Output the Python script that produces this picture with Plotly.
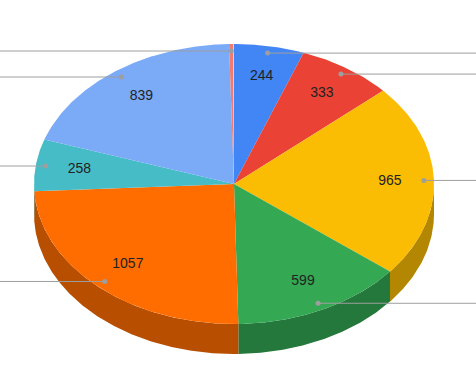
import numpy as np
import plotly.graph_objects as go

# ---- data ----
categories = ["S1", "S2", "S3", "S4", "S5", "S6", "S7", "S8", "S9"]
values = [244, 333, 965, 599, 1057, 258, 839, 14, 3]
colors = ["#4285f4", "#ea4335", "#fbbc04", "#34a853", "#ff6d01",
          "#46bdc6", "#7baaf7", "#f07b72", "#fcd04f"]

# ---- geometry (pixel space) ----
W, H = 476, 373
cx, cy, rx, ry, depth = 234, 184, 200, 140, 30
label_r, dot_r = 0.78, 0.95


def darker(hexc, f=0.72):
    h = hexc.lstrip("#")
    r, g, b = (int(h[i:i + 2], 16) for i in (0, 2, 4))
    return "rgb(%d,%d,%d)" % (r * f, g * f, b * f)


def arc(a, b, r=1.0, dy=0.0, n=None):
    n = n or max(2, int(abs(b - a) * 2) + 2)
    t = np.radians(np.linspace(a, b, n))
    return cx + r * rx * np.sin(t), cy - r * ry * np.cos(t) + dy


total = float(sum(values))
cum = np.concatenate([[0], np.cumsum(values)]) / total * 360.0

fig = go.Figure()

# side walls (front half only: 90..270 degrees)
for i, v in enumerate(values):
    a, b = cum[i], cum[i + 1]
    lo, hi = max(a, 90), min(b, 270)
    if lo < hi:
        xt, yt = arc(lo, hi)
        xb, yb = arc(lo, hi, dy=depth)
        xs = np.concatenate([xt, xb[::-1], xt[:1]])
        ys = np.concatenate([yt, yb[::-1], yt[:1]])
        fig.add_trace(go.Scatter(x=xs, y=ys, fill="toself", mode="lines",
                                 line=dict(width=0), fillcolor=darker(colors[i]),
                                 hoverinfo="skip", showlegend=False))

# top faces
for i, v in enumerate(values):
    a, b = cum[i], cum[i + 1]
    xa, ya = arc(a, b)
    xs = np.concatenate([[cx], xa, [cx]])
    ys = np.concatenate([[cy], ya, [cy]])
    fig.add_trace(go.Scatter(x=xs, y=ys, fill="toself", mode="lines",
                             line=dict(width=0), fillcolor=colors[i],
                             name=categories[i], hoverinfo="skip", showlegend=False))

# leader lines + dots
for i, v in enumerate(values):
    if v <= 5:
        continue
    m = (cum[i] + cum[i + 1]) / 2
    t = np.radians(m)
    dx = cx + dot_r * rx * np.sin(t)
    dy = cy - dot_r * ry * np.cos(t)
    xend = W + 5 if np.sin(t) > 0 or m < 1 else -5
    if m > 300:
        xend = -5
    fig.add_trace(go.Scatter(x=[dx, xend], y=[dy, dy], mode="lines",
                             line=dict(color="#9e9e9e", width=1),
                             hoverinfo="skip", showlegend=False))
    fig.add_trace(go.Scatter(x=[dx], y=[dy], mode="markers",
                             marker=dict(color="#9e9e9e", size=5),
                             hoverinfo="skip", showlegend=False))

# value labels
lx, ly, lt = [], [], []
for i, v in enumerate(values):
    if v / total < 0.02:
        continue
    m = np.radians((cum[i] + cum[i + 1]) / 2)
    lx.append(cx + label_r * rx * np.sin(m))
    ly.append(cy - label_r * ry * np.cos(m))
    lt.append(str(v))
fig.add_trace(go.Scatter(x=lx, y=ly, mode="text", text=lt,
                         textfont=dict(family="Liberation Sans, Arial", size=14, color="#222222"),
                         hoverinfo="skip", showlegend=False))

fig.update_layout(width=W, height=H, margin=dict(l=0, r=0, t=0, b=0),
                  paper_bgcolor="white", plot_bgcolor="white",
                  xaxis=dict(range=[0, W], visible=False, fixedrange=True),
                  yaxis=dict(range=[H, 0], visible=False, fixedrange=True),
                  showlegend=False)
fig.write_html("out.html")
